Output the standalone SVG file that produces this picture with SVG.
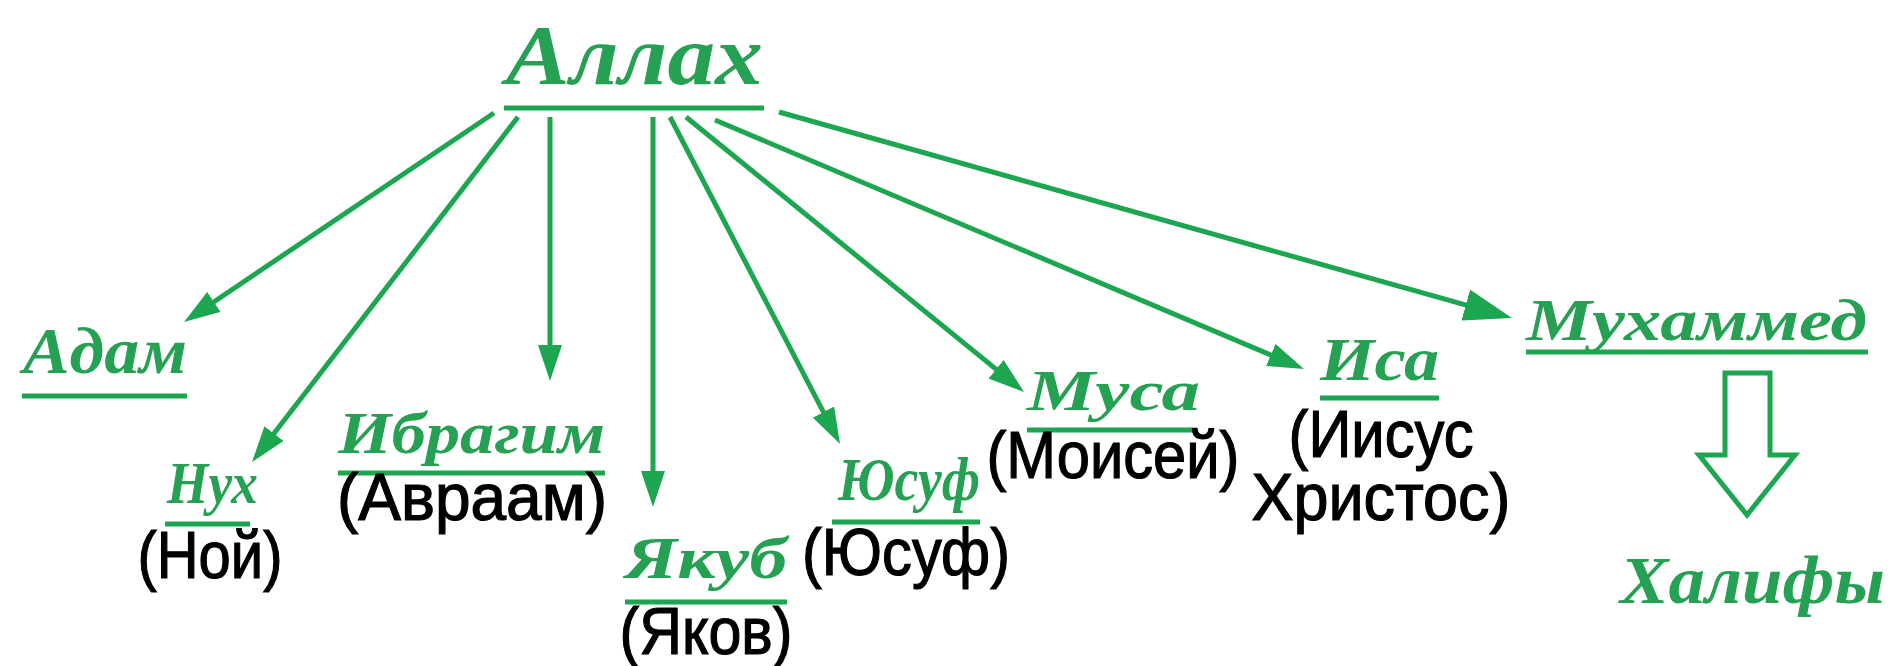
<svg xmlns="http://www.w3.org/2000/svg" width="1895" height="666" viewBox="0 0 1895 666">
  <style>
    .script { font-family: "Liberation Serif", "DejaVu Serif", serif; font-style: italic; font-weight: bold; fill: #26a053; }
    .plain { font-family: "Liberation Sans", Arial, sans-serif; font-size: 66px; fill: #000; stroke: #000; stroke-width: 1.2; text-anchor: middle; }
    .ul { stroke: #1ba64f; stroke-width: 5; fill: none; }
    .conn { stroke: #1ba64f; stroke-width: 5; fill: none; }
  </style>
  <defs>
    <marker id="ah" viewBox="0 0 36 24" markerWidth="36" markerHeight="24" refX="24" refY="12" orient="auto" markerUnits="userSpaceOnUse">
      <path d="M0,0 L36,12 L0,24 Z" fill="#1ba64f"/>
    </marker>
    <marker id="ahBig" viewBox="0 0 48 32" markerWidth="48" markerHeight="32" refX="32" refY="16" orient="auto" markerUnits="userSpaceOnUse">
      <path d="M0,0 L48,16 L0,32 Z" fill="#1ba64f"/>
    </marker>
  </defs>
  <rect width="1895" height="666" fill="#ffffff"/>

  <g id="connectors">
    <line class="conn" x1="494" y1="113" x2="194" y2="315.3" marker-end="url(#ah)"/>
    <line class="conn" x1="518" y1="117" x2="259.3" y2="452.5" marker-end="url(#ah)"/>
    <line class="conn" x1="550" y1="117" x2="550" y2="369" marker-end="url(#ah)"/>
    <line class="conn" x1="653" y1="117" x2="653" y2="495" marker-end="url(#ah)"/>
    <line class="conn" x1="670" y1="117" x2="834.5" y2="433.4" marker-end="url(#ah)"/>
    <line class="conn" x1="686" y1="117" x2="1014.7" y2="384.4" marker-end="url(#ah)"/>
    <line class="conn" x1="715" y1="120" x2="1292.9" y2="364.3" marker-end="url(#ah)"/>
    <line class="conn" x1="779" y1="112" x2="1496.6" y2="313.7" stroke-width="7" marker-end="url(#ahBig)"/>
    <polygon id="block-arrow" points="1725,373 1770,373 1770,455 1795,455 1747,515 1699,455 1725,455" fill="#ffffff" stroke="#1ba64f" stroke-width="5" stroke-linejoin="miter"/>
  </g>

  <g id="allah">
    <text class="script" x="506" y="84" font-size="84" textLength="257" lengthAdjust="spacingAndGlyphs">Аллах</text>
    <line class="ul" x1="504" y1="108" x2="764" y2="108"/>
  </g>

  <g id="adam">
    <text class="script" x="23" y="373" font-size="66" textLength="164" lengthAdjust="spacingAndGlyphs">Адам</text>
    <line class="ul" x1="22" y1="396" x2="187" y2="396"/>
  </g>

  <g id="nuh">
    <text class="script" x="167" y="503" font-size="60" textLength="91" lengthAdjust="spacingAndGlyphs">Нух</text>
    <line class="ul" x1="165" y1="524" x2="250" y2="524"/>
    <text class="plain" x="210" y="578" textLength="145" lengthAdjust="spacingAndGlyphs">(Ной)</text>
  </g>

  <g id="ibragim">
    <text class="script" x="338" y="453" font-size="60" textLength="267" lengthAdjust="spacingAndGlyphs">Ибрагим</text>
    <line class="ul" x1="338" y1="473" x2="605" y2="473"/>
    <text class="plain" x="472" y="520" textLength="270" lengthAdjust="spacingAndGlyphs">(Авраам)</text>
  </g>

  <g id="yakub">
    <text class="script" x="625" y="578" font-size="60" textLength="162" lengthAdjust="spacingAndGlyphs">Якуб</text>
    <line class="ul" x1="625" y1="602" x2="787" y2="602"/>
    <text class="plain" x="706" y="654" textLength="173" lengthAdjust="spacingAndGlyphs">(Яков)</text>
  </g>

  <g id="yusuf">
    <text class="script" x="838" y="500" font-size="62" textLength="142" lengthAdjust="spacingAndGlyphs">Юсуф</text>
    <line class="ul" x1="832" y1="522" x2="980" y2="522"/>
    <text class="plain" x="906" y="575" textLength="208" lengthAdjust="spacingAndGlyphs">(Юсуф)</text>
  </g>

  <g id="musa">
    <text class="script" x="1027" y="410" font-size="58" textLength="173" lengthAdjust="spacingAndGlyphs">Муса</text>
    <line class="ul" x1="1027" y1="430" x2="1197" y2="430"/>
    <text class="plain" x="1113" y="478" textLength="253" lengthAdjust="spacingAndGlyphs">(Моисей)</text>
  </g>

  <g id="isa">
    <text class="script" x="1320" y="380" font-size="62" textLength="119" lengthAdjust="spacingAndGlyphs">Иса</text>
    <line class="ul" x1="1320" y1="398" x2="1439" y2="398"/>
    <text class="plain" x="1381" y="457" textLength="185" lengthAdjust="spacingAndGlyphs">(Иисус</text>
    <text class="plain" x="1381" y="520" textLength="259" lengthAdjust="spacingAndGlyphs">Христос)</text>
  </g>

  <g id="muhammed">
    <text class="script" x="1526" y="340" font-size="60" textLength="341" lengthAdjust="spacingAndGlyphs">Мухаммед</text>
    <line class="ul" x1="1526" y1="352" x2="1868" y2="352"/>
  </g>

  <g id="halify">
    <text class="script" x="1620" y="603" font-size="68" textLength="265" lengthAdjust="spacingAndGlyphs">Халифы</text>
  </g>
</svg>
